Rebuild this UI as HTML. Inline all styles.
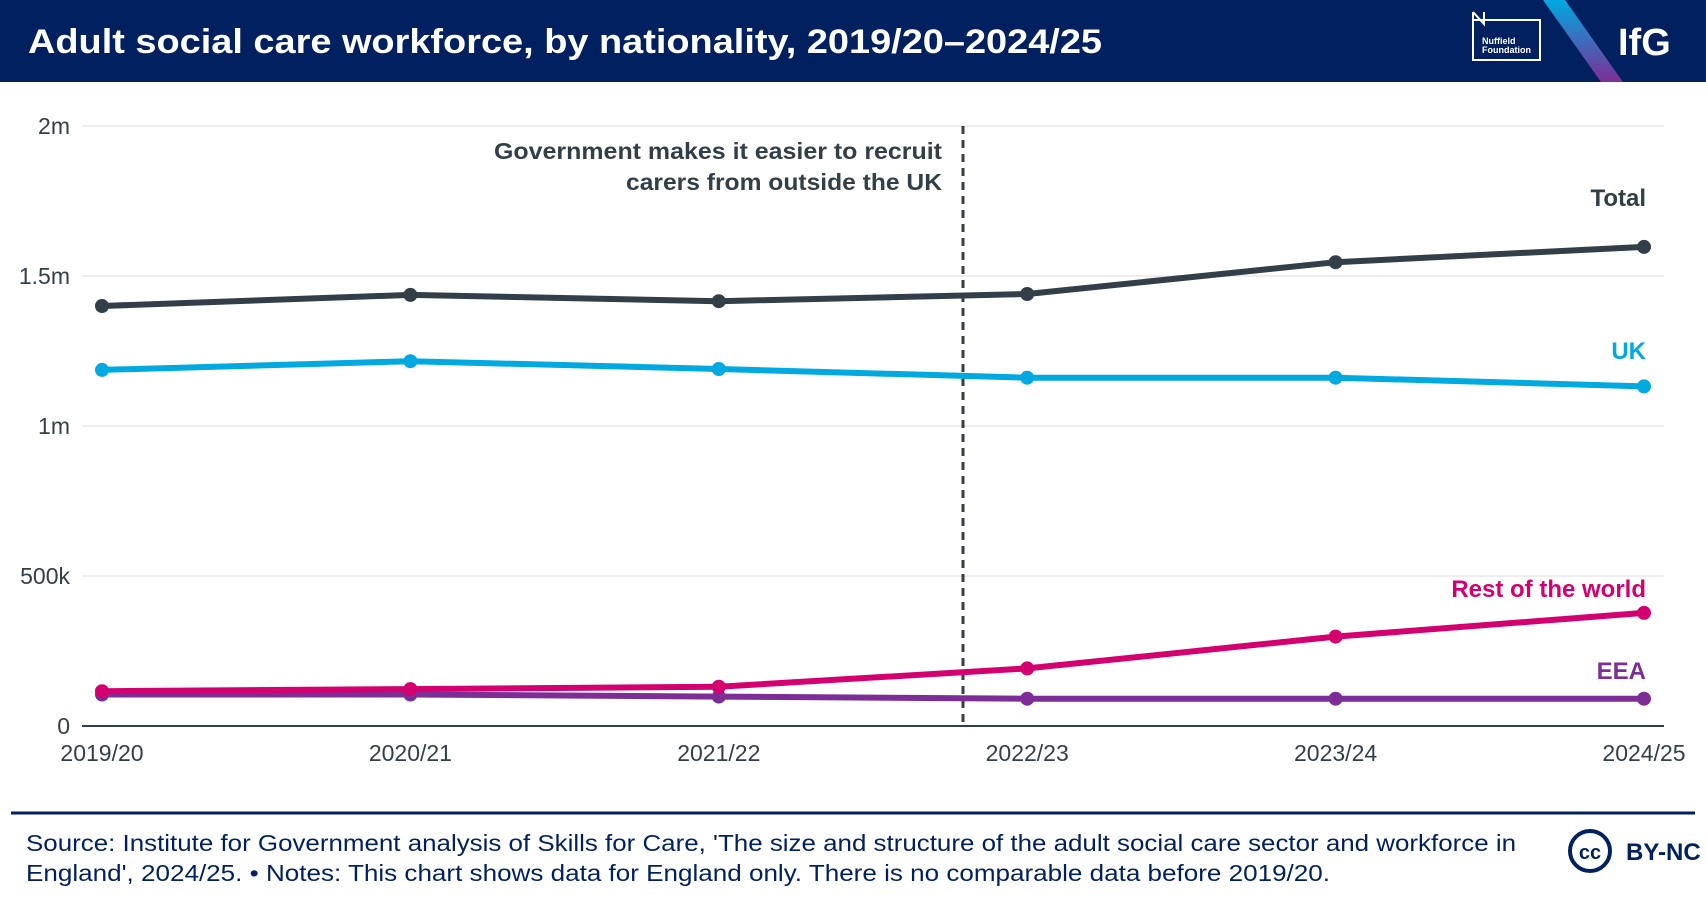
<!DOCTYPE html>
<html><head><meta charset="utf-8"><style>
html,body{margin:0;padding:0;background:#fff;}
svg{display:block;font-family:"Liberation Sans",sans-serif;}
</style></head><body>
<svg id="chart" width="1706" height="902" viewBox="0 0 1706 902">
<rect x="0" y="0" width="1706" height="82" fill="#00205f"/>
<text x="28" y="53" fill="#fff" font-size="34" font-weight="bold" textLength="1074" lengthAdjust="spacingAndGlyphs">Adult social care workforce, by nationality, 2019/20–2024/25</text>
<g>
<rect x="1473" y="20" width="67" height="40" fill="none" stroke="#fff" stroke-width="2"/>
<path d="M1473 12 L1473 24 M1473 12 L1484 24 L1484 12" stroke="#fff" stroke-width="2" fill="none"/>
<text x="1482" y="44" fill="#fff" font-size="9" font-weight="bold">Nuffield</text>
<text x="1482" y="53" fill="#fff" font-size="9" font-weight="bold">Foundation</text>
</g>
<defs><linearGradient id="gr" x1="0" y1="0" x2="0" y2="1"><stop offset="0" stop-color="#00a9e0"/><stop offset="1" stop-color="#7d2e96"/></linearGradient></defs>
<polygon points="1543,0 1565,0 1623,82 1601,82" fill="url(#gr)"/>
<text x="1618" y="55" fill="#fff" font-size="38" font-weight="bold">IfG</text>
<g id="grid"></g>
<line x1="963" y1="126" x2="963" y2="726" stroke="#333f48" stroke-width="3" stroke-dasharray="8,6"/>
<text x="942" y="159" text-anchor="end" fill="#333f48" font-size="23" font-weight="bold" textLength="448" lengthAdjust="spacingAndGlyphs">Government makes it easier to recruit</text>
<text x="942" y="190" text-anchor="end" fill="#333f48" font-size="23" font-weight="bold" textLength="316" lengthAdjust="spacingAndGlyphs">carers from outside the UK</text>
<g id="series"></g>
<line x1="11" y1="813" x2="1695" y2="813" stroke="#00205f" stroke-width="3"/>
<text x="26" y="851" fill="#00205f" font-size="23" textLength="1490" lengthAdjust="spacingAndGlyphs">Source: Institute for Government analysis of Skills for Care, 'The size and structure of the adult social care sector and workforce in</text>
<text x="26" y="881" fill="#00205f" font-size="23" textLength="1304" lengthAdjust="spacingAndGlyphs">England', 2024/25. • Notes: This chart shows data for England only. There is no comparable data before 2019/20.</text>
<g>
<circle cx="1590" cy="851" r="20" fill="none" stroke="#00205f" stroke-width="4"/>
<text x="1590" y="859" text-anchor="middle" fill="#00205f" font-size="20" font-weight="bold">cc</text>
<text x="1626" y="860" fill="#00205f" font-size="24" font-weight="bold">BY-NC</text>
</g>
</svg>
<script>
const categories = ["2019/20","2020/21","2021/22","2022/23","2023/24","2024/25"];
const yTicks = [0, 500000, 1000000, 1500000, 2000000];
const yTickLabels = ["0","500k","1m","1.5m","2m"];
const totalValues = [1400000,1437000,1416000,1440000,1546000,1597000];
const ukValues = [1187000,1216000,1190000,1161000,1161000,1132000];
const rowValues = [116000,123000,131000,192000,298000,377000];
const eeaValues = [105000,105000,98000,91000,91000,91000];
const seriesNames = ["Total","UK","Rest of the world","EEA"];

const NS="http://www.w3.org/2000/svg";
const X0=102, X1=1644, Y0=726, Y1=126, VMAX=2000000;
function xs(i){return X0+(X1-X0)*i/(categories.length-1);}
function ys(v){return Y0-(Y0-Y1)*v/VMAX;}
function mk(tag,attrs,parent){const e=document.createElementNS(NS,tag);for(const k in attrs)e.setAttribute(k,attrs[k]);parent.appendChild(e);return e;}
const grid=document.getElementById('grid');
yTicks.forEach((v,i)=>{
  if(v>0){const g=mk('line',{x1:82,x2:1664,y1:ys(v),y2:ys(v),stroke:'#eeeeee','stroke-width':2},grid);
  
  }
  const t=mk('text',{x:70,y:ys(v)+8,'text-anchor':'end',fill:'#333f48','font-size':23},grid);
  t.textContent=yTickLabels[i];
  
  
});
const ax=mk('line',{x1:82,x2:1664,y1:Y0,y2:Y0,stroke:'#333f48','stroke-width':2},grid);


categories.forEach((c,i)=>{
  const t=mk('text',{x:xs(i),y:761,'text-anchor':'middle',fill:'#333f48','font-size':23},grid);
  t.textContent=c;
  
  
});
const ser=document.getElementById('series');
const defs=[[eeaValues,'#7d2e96',679,'eea'],[rowValues,'#d4006f',597,'rest-of-world'],[ukValues,'#00a9e0',359,'uk'],[totalValues,'#333f48',206,'total']];
const labelIdx={eea:3,'rest-of-world':2,uk:1,total:0};
defs.forEach(([vals,col,ly,nm])=>{
  const p=mk('polyline',{points:vals.map((v,i)=>xs(i)+','+ys(v)).join(' '),fill:'none',stroke:col,'stroke-width':6,'stroke-linejoin':'round'},ser);
  
  
  vals.forEach((v,i)=>{
    const c=mk('circle',{cx:xs(i),cy:ys(v),r:7,fill:col},ser);
    
    
  });
  const t=mk('text',{x:1646,y:ly,'text-anchor':'end',fill:col,'font-size':24,'font-weight':'bold'},ser);
  t.textContent=seriesNames[labelIdx[nm]];
  
  
});
</script>
</body></html>
